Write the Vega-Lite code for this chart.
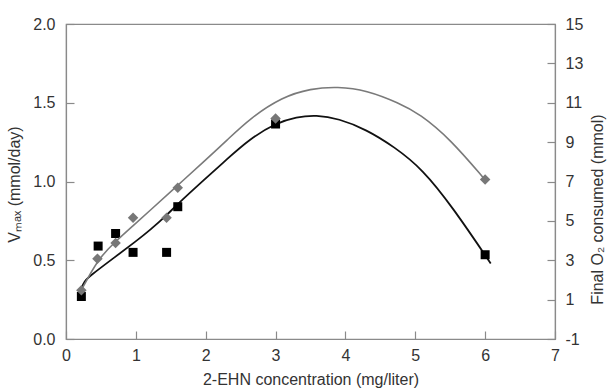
{
  "$schema": "https://vega.github.io/schema/vega-lite/v6.json",
  "width": 489,
  "height": 315,
  "autosize": "none",
  "padding": {"left": 66, "top": 24, "right": 54, "bottom": 51},
  "background": "white",
  "config": {
    "font": "Liberation Sans",
    "view": {"stroke": "#8a8a8a", "strokeWidth": 1.2},
    "axis": {
      "grid": false,
      "domainColor": "#8a8a8a",
      "domainWidth": 1.2,
      "tickColor": "#8a8a8a",
      "tickWidth": 1.2,
      "tickSize": -8,
      "labelFlush": false,
      "labelOverlap": false,
      "labelFont": "Liberation Sans",
      "labelFontSize": 16,
      "labelColor": "#333333",
      "titleFont": "Liberation Sans",
      "titleFontSize": 16,
      "titleFontWeight": "normal",
      "titleColor": "#333333"
    }
  },
  "datasets": {
    "rate": [
      {"conc": 0.22, "vmax": 0.27},
      {"conc": 0.46, "vmax": 0.59},
      {"conc": 0.71, "vmax": 0.67},
      {"conc": 0.96, "vmax": 0.55},
      {"conc": 1.44, "vmax": 0.55},
      {"conc": 1.6, "vmax": 0.84},
      {"conc": 3.0, "vmax": 1.365},
      {"conc": 6.0, "vmax": 0.535}
    ],
    "rateFit": [
      {"conc": 0.22, "vmax": 0.32},
      {"conc": 0.26, "vmax": 0.365},
      {"conc": 0.34, "vmax": 0.4},
      {"conc": 0.7, "vmax": 0.52},
      {"conc": 1.0, "vmax": 0.62},
      {"conc": 1.2, "vmax": 0.69},
      {"conc": 1.44, "vmax": 0.785},
      {"conc": 1.58, "vmax": 0.85},
      {"conc": 2.0, "vmax": 1.02},
      {"conc": 2.3, "vmax": 1.14},
      {"conc": 2.63, "vmax": 1.27},
      {"conc": 3.0, "vmax": 1.37},
      {"conc": 3.3, "vmax": 1.41},
      {"conc": 3.58, "vmax": 1.422},
      {"conc": 3.9, "vmax": 1.4},
      {"conc": 4.3, "vmax": 1.33},
      {"conc": 4.7, "vmax": 1.22},
      {"conc": 5.1, "vmax": 1.08},
      {"conc": 5.53, "vmax": 0.84},
      {"conc": 6.08, "vmax": 0.48}
    ],
    "oxygen": [
      {"conc": 0.22, "o2": 1.48},
      {"conc": 0.45, "o2": 3.08},
      {"conc": 0.71, "o2": 3.88},
      {"conc": 0.96, "o2": 5.16},
      {"conc": 1.44, "o2": 5.16},
      {"conc": 1.6, "o2": 6.68},
      {"conc": 3.0, "o2": 10.2},
      {"conc": 6.0, "o2": 7.1}
    ],
    "oxygenFit": [
      {"conc": 0.22, "o2": 1.48},
      {"conc": 0.46, "o2": 3.08},
      {"conc": 0.7, "o2": 3.92},
      {"conc": 0.95, "o2": 4.72},
      {"conc": 1.2, "o2": 5.52},
      {"conc": 1.58, "o2": 6.74},
      {"conc": 2.0, "o2": 8.1},
      {"conc": 2.3, "o2": 9.08},
      {"conc": 2.63, "o2": 10.2},
      {"conc": 3.1, "o2": 11.3},
      {"conc": 3.5, "o2": 11.72},
      {"conc": 3.89, "o2": 11.82},
      {"conc": 4.3, "o2": 11.64},
      {"conc": 4.77, "o2": 10.98},
      {"conc": 5.06, "o2": 10.44},
      {"conc": 5.5, "o2": 9.16},
      {"conc": 6.0, "o2": 7.08}
    ]
  },
  "layer": [
    {
      "layer": [
        {
          "data": {"name": "rateFit"},
          "mark": {"type": "line", "color": "#111111", "strokeWidth": 1.8, "interpolate": "basis"},
          "encoding": {
            "x": {"field": "conc", "type": "quantitative"},
            "y": {"field": "vmax", "type": "quantitative"}
          }
        },
        {
          "data": {"name": "rate"},
          "mark": {"type": "point", "shape": "square", "filled": true, "color": "#000000", "size": 81, "opacity": 1},
          "encoding": {
            "x": {"field": "conc", "type": "quantitative"},
            "y": {"field": "vmax", "type": "quantitative"}
          }
        }
      ],
      "encoding": {
        "x": {
          "field": "conc", "type": "quantitative",
          "scale": {"domain": [0, 7], "nice": false},
          "axis": {"values": [0, 1, 2, 3, 4, 5, 6, 7], "format": "d", "title": "2-EHN concentration (mg/liter)", "labelPadding": 16, "titlePadding": 8}
        },
        "y": {
          "field": "vmax", "type": "quantitative",
          "scale": {"domain": [0, 2], "nice": false},
          "axis": {"orient": "left", "values": [0, 0.5, 1, 1.5, 2], "format": ".1f", "title": "Vₘₐₓ (mmol/day)", "labelPadding": 19, "titlePadding": 10, "titleY": 160}
        }
      }
    },
    {
      "layer": [
        {
          "data": {"name": "oxygenFit"},
          "mark": {"type": "line", "color": "#7a7a7a", "strokeWidth": 1.6, "interpolate": "basis"},
          "encoding": {
            "x": {"field": "conc", "type": "quantitative"},
            "y": {"field": "o2", "type": "quantitative"}
          }
        },
        {
          "data": {"name": "oxygen"},
          "mark": {"type": "point", "shape": "diamond", "filled": true, "color": "#777777", "size": 110, "opacity": 1},
          "encoding": {
            "x": {"field": "conc", "type": "quantitative"},
            "y": {"field": "o2", "type": "quantitative"}
          }
        }
      ],
      "encoding": {
        "x": {
          "field": "conc", "type": "quantitative",
          "scale": {"domain": [0, 7], "nice": false},
          "axis": {"values": [0, 1, 2, 3, 4, 5, 6, 7], "format": "d", "title": "2-EHN concentration (mg/liter)", "labelPadding": 16, "titlePadding": 8}
        },
        "y": {
          "field": "o2", "type": "quantitative",
          "scale": {"domain": [-1, 15], "nice": false},
          "axis": {"orient": "right", "values": [-1, 1, 3, 5, 7, 9, 11, 13, 15], "format": "d", "labelExpr": "replace(datum.label, '\u2212', '-')", "title": "Final O₂  consumed  (mmol)", "titleAngle": -90, "labelPadding": 18, "titlePadding": 23, "titleY": 185}
        }
      }
    }
  ],
  "resolve": {"scale": {"y": "independent"}, "axis": {"y": "independent"}}
}
